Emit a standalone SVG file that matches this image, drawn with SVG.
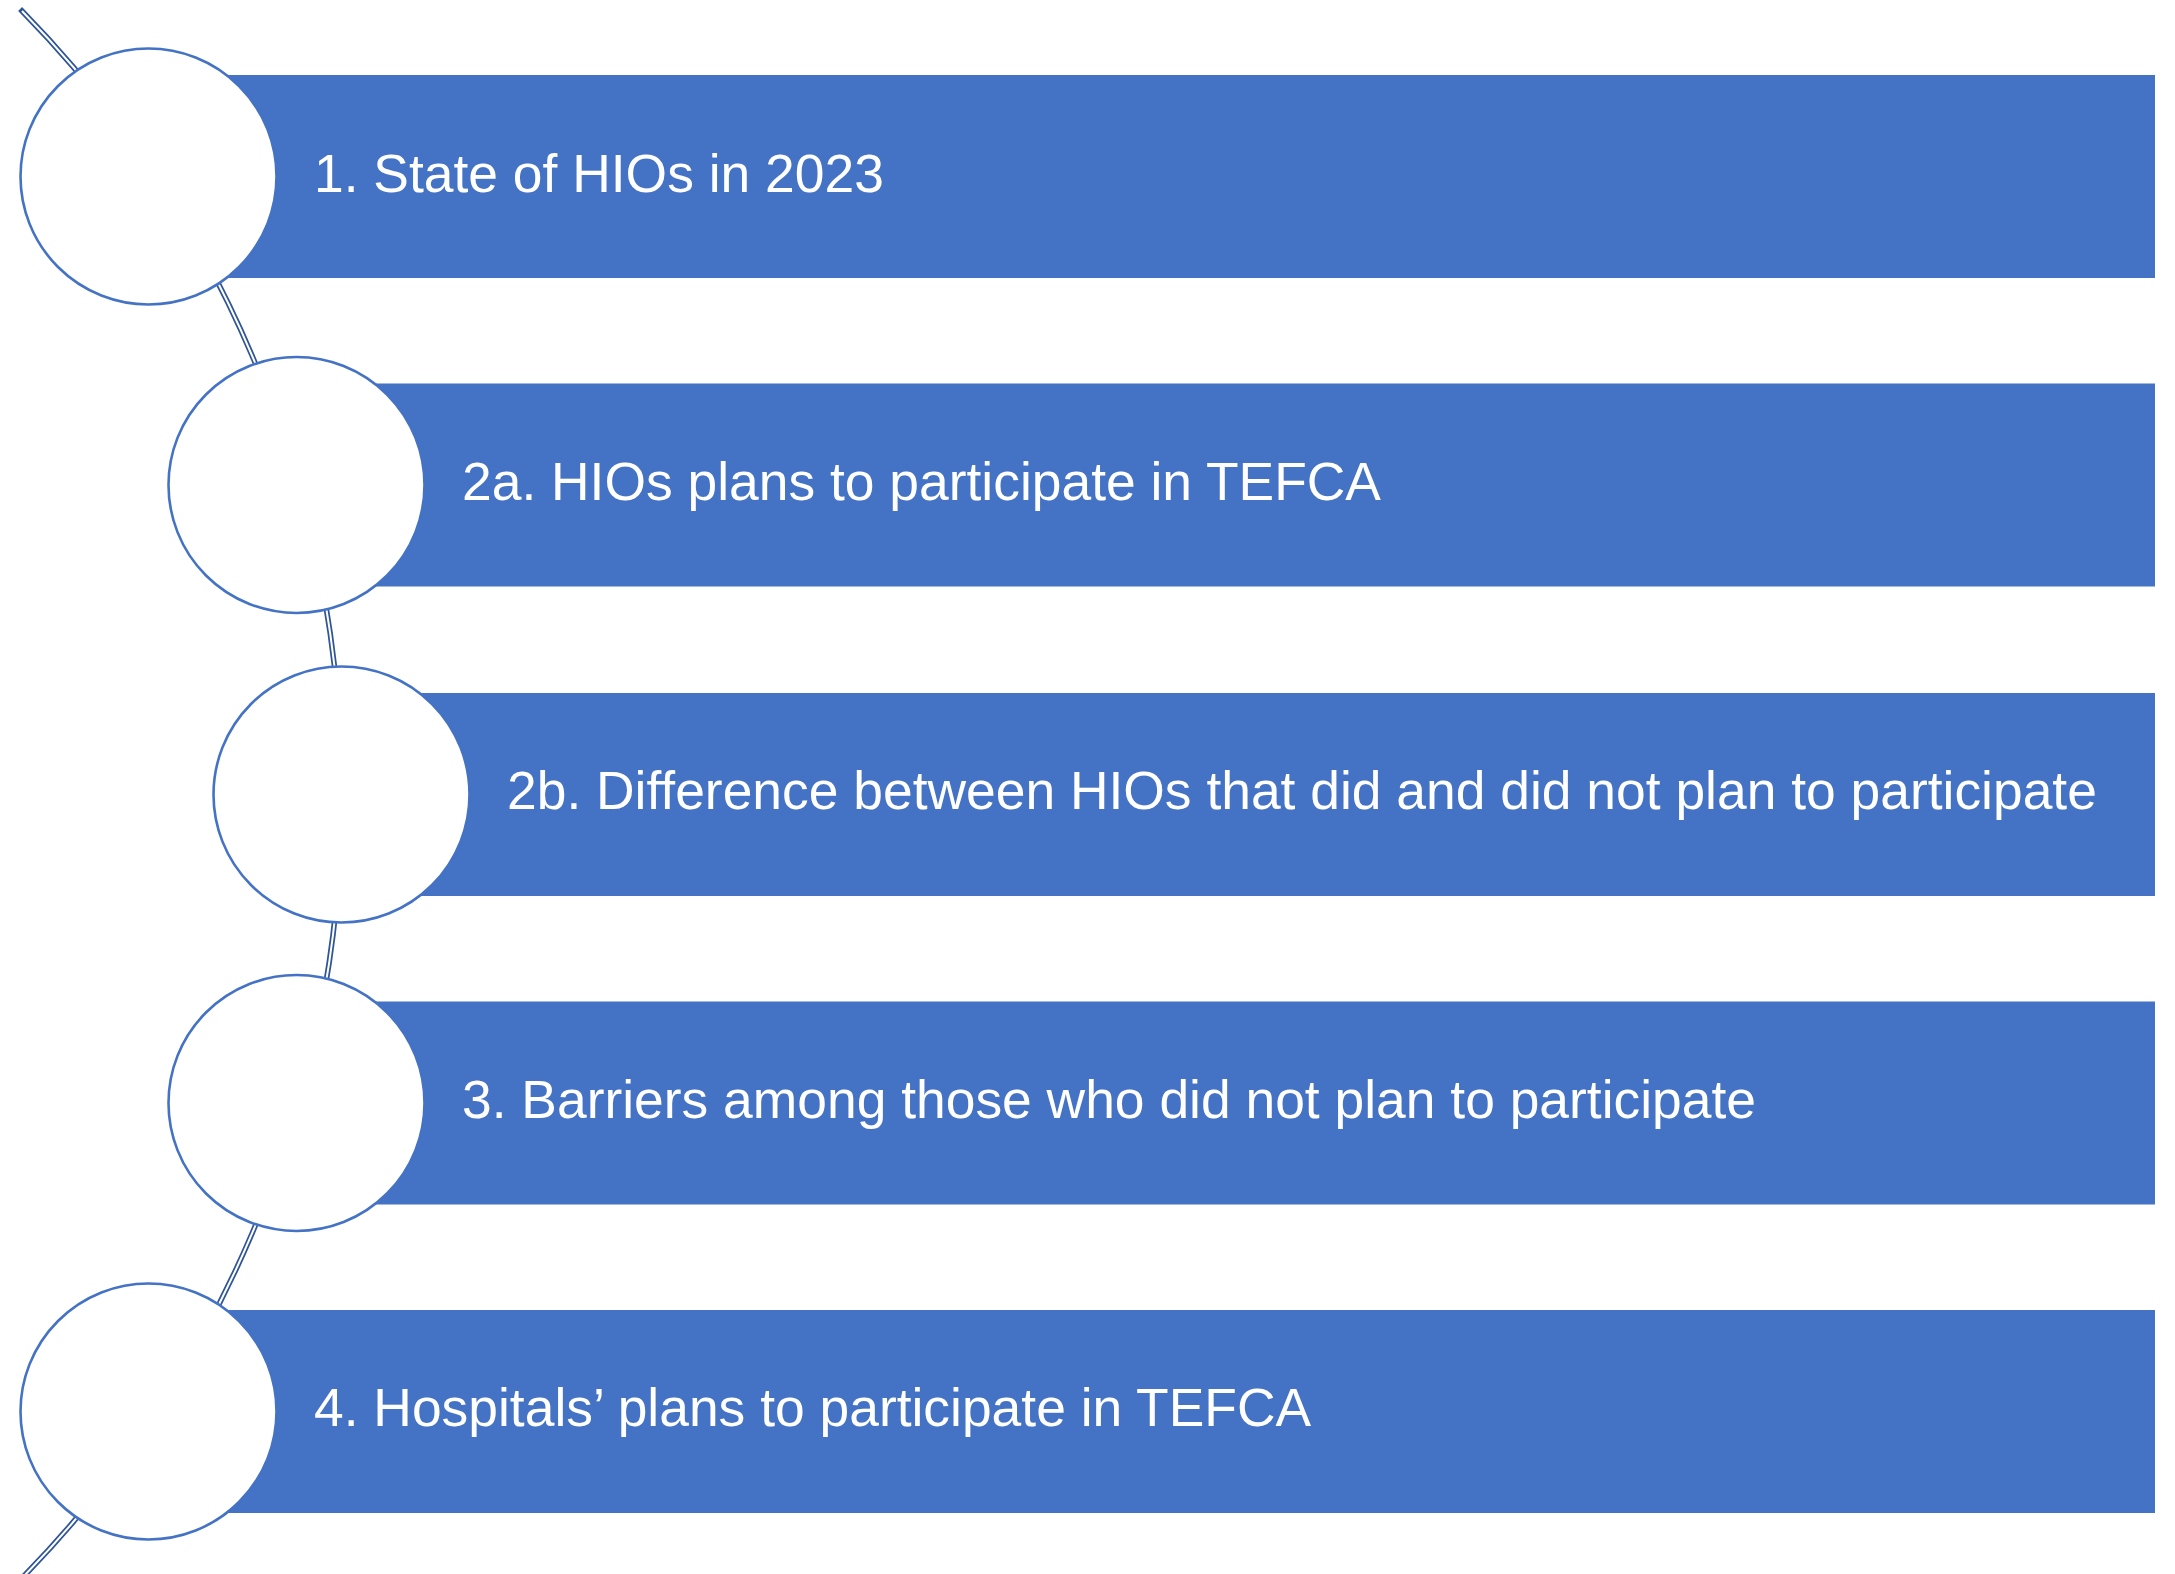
<svg xmlns="http://www.w3.org/2000/svg" width="2175" height="1574" viewBox="0 0 2175 1574">
<style>
.bar{fill:#4472C4}
.dot{fill:#FFFFFF;stroke:#4472C4;stroke-width:2.6}
.lbl{fill:#FFFFFF;font-family:"Liberation Sans",Arial,sans-serif;font-size:53.4px}
.arcO{fill:none;stroke:#2F5597;stroke-width:5.5;stroke-linecap:square}
.arcI{fill:none;stroke:#FFFFFF;stroke-width:2;stroke-linecap:butt}
</style>
<rect width="2175" height="1574" fill="#FFFFFF"/>
<g id="connectors">
<path class="arcO" d="M 22 11 A 1120 1120 0 0 1 22 1578"/>
<path class="arcI" d="M 22 11 A 1120 1120 0 0 1 22 1578"/>
</g>
<g id="node1">
<rect class="bar" x="148" y="75" width="2007" height="203"/>
<circle class="dot" cx="148.5" cy="176.5" r="128"/>
<text class="lbl" x="314" y="192">1. State of HIOs in 2023</text>
</g>
<g id="node2a">
<rect class="bar" x="296" y="383.5" width="1859" height="203"/>
<circle class="dot" cx="296.5" cy="485" r="128"/>
<text class="lbl" x="462" y="500">2a. HIOs plans to participate in TEFCA</text>
</g>
<g id="node2b">
<rect class="bar" x="341" y="693" width="1814" height="203"/>
<circle class="dot" cx="341.5" cy="794.5" r="128"/>
<text class="lbl" x="507" y="808.5">2b. Difference between HIOs that did and did not plan to participate</text>
</g>
<g id="node3">
<rect class="bar" x="296" y="1001.5" width="1859" height="203"/>
<circle class="dot" cx="296.5" cy="1103" r="128"/>
<text class="lbl" x="462" y="1117.5">3. Barriers among those who did not plan to participate</text>
</g>
<g id="node4">
<rect class="bar" x="148" y="1310" width="2007" height="203"/>
<circle class="dot" cx="148.5" cy="1411.5" r="128"/>
<text class="lbl" x="314" y="1426">4. Hospitals’ plans to participate in TEFCA</text>
</g>
</svg>
